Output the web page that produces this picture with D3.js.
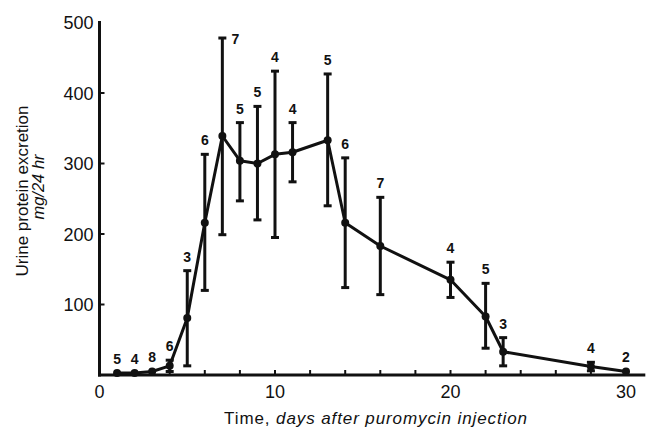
<!DOCTYPE html>
<html>
<head>
<meta charset="utf-8">
<script src="https://cdn.jsdelivr.net/npm/d3@7"></script>
<style>
  body { margin: 0; background: #fff; }
  text { font-family: "Liberation Sans", Arial, sans-serif; fill: #111; }
</style>
</head>
<body>
<svg width="657" height="430"></svg>
<script>
// days after injection, mean excretion, error bar ends, and number of animals
var days  = [1, 2, 3, 4, 5, 6, 7, 8, 9, 10, 11, 13, 14, 16, 20, 22, 23, 28, 30];
var means = [3, 3, 5, 13, 81, 216, 339, 304, 300, 313, 316, 333, 216, 183, 135, 83, 33, 12, 5];
var upper = [3, 3, 5, 21, 148, 313, 478, 358, 381, 431, 358, 427, 308, 252, 160, 130, 53, 18, 5];
var lower = [3, 3, 5, 5, 13, 120, 199, 247, 220, 195, 274, 240, 124, 114, 110, 38, 13, 6, 5];
var counts = [5, 4, 8, 6, 3, 6, 7, 5, 5, 4, 4, 5, 6, 7, 4, 5, 3, 4, 2];

var xTicks = d3.range(0, 32, 2);
var xLabels = [0, 10, 20, 30];
var yTicks = [100, 200, 300, 400, 500];

var svg = d3.select('svg');

var x = d3.scaleLinear().domain([0, 30]).range([99.5, 626]);
var y = d3.scaleLinear().domain([0, 500]).range([375, 22.5]);

var data = days.map(function(d, i) {
    return {day: d, mean: means[i], hi: upper[i], lo: lower[i], n: counts[i]};
});

// axes
var axisG = svg.append("g");
axisG.append("line")
    .attr("x1", x(0)).attr("x2", x(0))
    .attr("y1", y(0) + 1.5).attr("y2", y(502))
    .attr("stroke", "#111").attr("stroke-width", 3);
axisG.append("line")
    .attr("x1", x(0) - 1.5).attr("x2", x(31.1))
    .attr("y1", y(0)).attr("y2", y(0))
    .attr("stroke", "#111").attr("stroke-width", 3);

axisG.selectAll(".xt")
    .data(xTicks.filter(function(d) { return d > 0; }))
    .enter()
    .append("line")
    .attr("x1", function(d) { return x(d); })
    .attr("x2", function(d) { return x(d); })
    .attr("y1", y(0)).attr("y2", y(0) - 5)
    .attr("stroke", "#111").attr("stroke-width", 2);

axisG.selectAll(".yt")
    .data(yTicks.slice(0, 4))
    .enter()
    .append("line")
    .attr("x1", x(0)).attr("x2", x(0) + 5)
    .attr("y1", function(d) { return y(d); })
    .attr("y2", function(d) { return y(d); })
    .attr("stroke", "#111").attr("stroke-width", 2);

axisG.selectAll(".xl")
    .data(xLabels)
    .enter()
    .append("text")
    .attr("x", function(d) { return x(d); })
    .attr("y", 398)
    .attr("text-anchor", "middle")
    .style("font-size", "18px")
    .text(function(d) { return d; });

axisG.selectAll(".yl")
    .data(yTicks)
    .enter()
    .append("text")
    .attr("x", x(0) - 6)
    .attr("y", function(d) { return y(d) + 6.5; })
    .attr("text-anchor", "end")
    .style("font-size", "18px")
    .text(function(d) { return d; });

// axis titles
var xTitle = svg.append("text")
    .attr("x", 376).attr("y", 424)
    .attr("text-anchor", "middle")
    .style("font-size", "17px")
    .style("letter-spacing", "0.9px");
xTitle.append("tspan").text("Time, ");
xTitle.append("tspan").style("font-style", "italic").text("days after puromycin injection");

svg.append("text")
    .attr("transform", "translate(28,191) rotate(-90)")
    .attr("text-anchor", "middle")
    .style("font-size", "17px")
    .text("Urine protein excretion");
svg.append("text")
    .attr("transform", "translate(44,187) rotate(-90)")
    .attr("text-anchor", "middle")
    .style("font-size", "16.5px")
    .style("font-style", "italic")
    .text("mg/24 hr");

// error bars
var bars = svg.append("g")
    .selectAll("g")
    .data(data.filter(function(d) { return d.hi > d.lo; }))
    .enter()
    .append("g");

bars.append("line")
    .attr("x1", function(d) { return x(d.day); })
    .attr("x2", function(d) { return x(d.day); })
    .attr("y1", function(d) { return y(d.hi); })
    .attr("y2", function(d) { return y(d.lo); })
    .attr("stroke", "#111").attr("stroke-width", 3);

bars.selectAll("line.cap")
    .data(function(d) { return [{day: d.day, v: d.hi}, {day: d.day, v: d.lo}]; })
    .enter()
    .append("line")
    .attr("x1", function(d) { return x(d.day) - 4; })
    .attr("x2", function(d) { return x(d.day) + 4; })
    .attr("y1", function(d) { return y(d.v); })
    .attr("y2", function(d) { return y(d.v); })
    .attr("stroke", "#111").attr("stroke-width", 3);

// mean line
var line = d3.line()
    .x(function(d) { return x(d.day); })
    .y(function(d) { return y(d.mean); });

svg.append("path")
    .datum(data)
    .attr("d", line)
    .attr("fill", "none")
    .attr("stroke", "#111")
    .attr("stroke-width", 3)
    .attr("stroke-linejoin", "round");

svg.append("g")
    .selectAll("circle")
    .data(data)
    .enter()
    .append("circle")
    .attr("cx", function(d) { return x(d.day); })
    .attr("cy", function(d) { return y(d.mean); })
    .attr("r", 4)
    .attr("fill", "#111");

// number of animals
svg.append("g")
    .selectAll("text")
    .data(data)
    .enter()
    .append("text")
    .attr("x", function(d) { return d.hi > 450 ? x(d.day) + 13 : x(d.day); })
    .attr("y", function(d) { return d.hi > 450 ? y(d.hi) + 6 : y(d.hi) - 9; })
    .attr("text-anchor", "middle")
    .style("font-size", "14px")
    .style("font-weight", "bold")
    .text(function(d) { return d.n; });
</script>
</body>
</html>
